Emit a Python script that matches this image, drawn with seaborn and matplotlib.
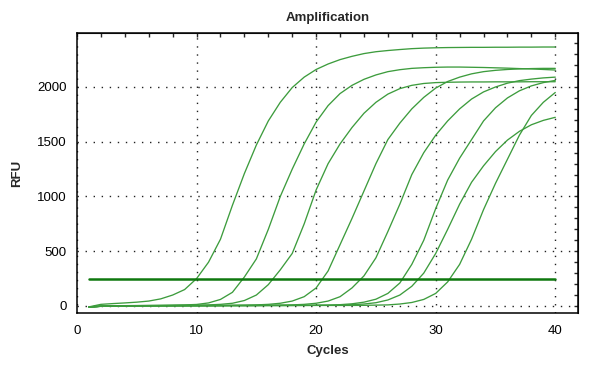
"""qPCR amplification plot (RFU vs cycle) with threshold line."""

import numpy as np
import pandas as pd
import matplotlib
matplotlib.use("Agg")
import matplotlib.pyplot as plt
from matplotlib.ticker import MultipleLocator
import seaborn as sns

cycles = list(range(1, 41))

# RFU per cycle, one list per well
well_a = [-8, 15, 22, 28, 35, 45, 65, 100, 150, 250,
          400, 610, 920, 1210, 1470, 1690, 1860, 1995, 2090, 2160,
          2210, 2250, 2280, 2305, 2322, 2333, 2342, 2350, 2355, 2358,
          2360, 2361, 2362, 2362, 2363, 2363, 2364, 2364, 2365, 2365]
well_b = [-10, -2, 1, 3, 4, 5, 6, 8, 10, 14,
          28, 60, 125, 265, 430, 700, 1000, 1250, 1480, 1680,
          1830, 1940, 2015, 2070, 2110, 2140, 2158, 2170, 2176, 2180,
          2182, 2182, 2180, 2178, 2175, 2172, 2168, 2165, 2160, 2155]
well_c = [-10, -3, 0, 2, 3, 4, 5, 6, 7, 8,
          10, 15, 25, 50, 100, 195, 330, 480, 750, 1060,
          1300, 1480, 1630, 1760, 1860, 1935, 1985, 2015, 2032, 2040,
          2043, 2045, 2046, 2046, 2047, 2047, 2047, 2048, 2048, 2048]
well_d = [-8, -2, 0, 1, 2, 2, 3, 3, 4, 4,
          5, 5, 6, 8, 10, 15, 25, 45, 85, 165,
          320, 560, 800, 1050, 1300, 1520, 1670, 1800, 1905, 1990,
          2050, 2090, 2120, 2140, 2152, 2160, 2165, 2168, 2170, 2170]
well_e = [-10, -3, 0, 1, 1, 2, 2, 3, 3, 3,
          4, 4, 5, 5, 6, 6, 8, 10, 15, 25,
          45, 85, 165, 275, 440, 680, 930, 1200, 1400, 1560,
          1690, 1800, 1890, 1955, 2000, 2035, 2058, 2072, 2083, 2090]
well_f = [-9, -2, 0, 1, 1, 2, 2, 2, 3, 3,
          3, 4, 4, 4, 5, 5, 5, 6, 6, 7,
          8, 12, 20, 35, 62, 115, 210, 380, 600, 890,
          1150, 1350, 1520, 1690, 1810, 1900, 1965, 2010, 2040, 2060]
well_g = [-10, -3, -1, 0, 1, 1, 2, 2, 2, 3,
          3, 3, 4, 4, 4, 5, 5, 5, 6, 6,
          7, 8, 12, 18, 30, 55, 100, 180, 300, 480,
          700, 930, 1130, 1280, 1410, 1515, 1595, 1655, 1695, 1723]
well_h = [-8, -2, 0, 0, 1, 1, 1, 2, 2, 2,
          2, 3, 3, 3, 3, 4, 4, 4, 4, 5,
          5, 5, 5, 6, 8, 10, 18, 32, 60, 115,
          220, 380, 610, 880, 1120, 1340, 1560, 1740, 1860, 1950]

threshold = 250
threshold_span = [1, 40]

wells = {"A": well_a, "B": well_b, "C": well_c, "D": well_d,
         "E": well_e, "F": well_f, "G": well_g, "H": well_h}

df = pd.concat(
    [pd.DataFrame({"Cycle": cycles, "RFU": v, "Well": k}) for k, v in wells.items()],
    ignore_index=True,
)
thr = pd.DataFrame({"Cycle": threshold_span, "RFU": [threshold] * 2})

sns.set_style("white")
plt.rcParams["font.family"] = ["Liberation Sans", "DejaVu Sans"]

fig = plt.figure(figsize=(5.98, 3.70), dpi=100)
ax = fig.add_axes([77 / 598, 1 - 313 / 370, 501 / 598, 280 / 370])

sns.lineplot(data=df, x="Cycle", y="RFU", units="Well", estimator=None,
             color="#3d9c3d", linewidth=0.95, ax=ax)
sns.lineplot(data=thr, x="Cycle", y="RFU", color="#0e780e", linewidth=1.8, ax=ax)

ax.set_xlim(0, 41.9)
ax.set_ylim(-64, 2493)
ax.xaxis.set_major_locator(MultipleLocator(10))
ax.xaxis.set_minor_locator(MultipleLocator(2))
ax.yaxis.set_major_locator(MultipleLocator(500))
ax.yaxis.set_minor_locator(MultipleLocator(100))

ax.grid(True, which="major", color="#222222", linewidth=1.0,
        linestyle=(0, (1, 4.8)))
for s in ax.spines.values():
    s.set_color("black")
    s.set_linewidth(1.1)

ax.tick_params(which="major", direction="inout", length=7, width=1.0,
               labelsize=9.5, colors="black", pad=5, top=False, right=False)
ax.tick_params(which="minor", direction="inout", length=3.6, width=1.0,
               top=False, right=False)
ax.tick_params(axis="y", which="major", pad=4)

# inward ticks on top and right spines
top = ax.secondary_xaxis("top")
top.xaxis.set_major_locator(MultipleLocator(2))
top.tick_params(direction="in", length=3, width=1.0, labeltop=False)
right = ax.secondary_yaxis("right")
right.yaxis.set_major_locator(MultipleLocator(100))
right.tick_params(direction="in", length=3, width=1.0, labelright=False)

ax.set_title("Amplification", fontsize=9.5, fontweight="bold", pad=9)
ax.set_xlabel("Cycles", fontsize=9.5, fontweight="bold", labelpad=6)
ax.set_ylabel("RFU", fontsize=9.5, fontweight="bold", labelpad=10)

fig.savefig("out.png", dpi=100)
